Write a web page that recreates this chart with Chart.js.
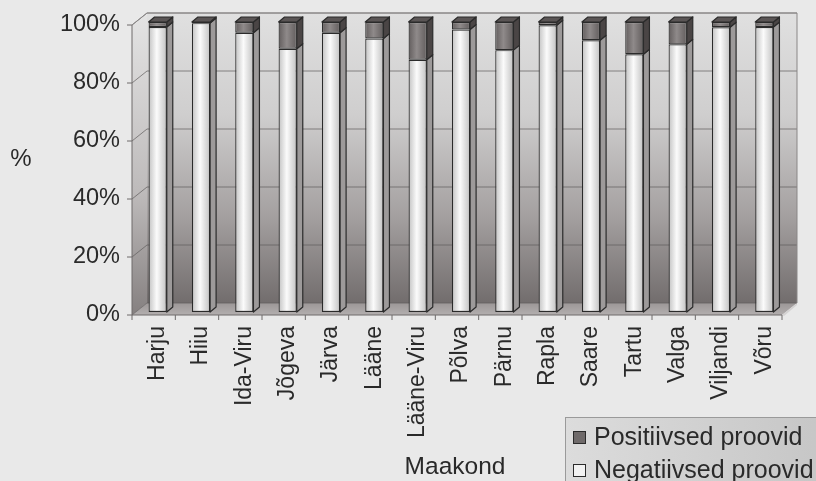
<!DOCTYPE html>
<html lang="et">
<head>
<meta charset="utf-8">
<title>Proovid maakonniti</title>
<script src="https://cdn.jsdelivr.net/npm/chart.js@4.4.1/dist/chart.umd.min.js"></script>
<style>
  html, body { margin: 0; padding: 0; background: #e9e9e9; }
  canvas { display: block; }
</style>
</head>
<body>
<canvas id="chart" width="816" height="481"></canvas>
<script>
// Andmed: negatiivsete ja positiivsete proovide osakaal (%) maakonniti
const MAAKONNAD = ["Harju", "Hiiu", "Ida-Viru", "Jõgeva", "Järva", "Lääne", "Lääne-Viru", "Põlva",
  "Pärnu", "Rapla", "Saare", "Tartu", "Valga", "Viljandi", "Võru"];
const NEGATIIVSED = [98.3, 99.6, 96.3, 90.8, 96.3, 94.3, 87.0, 97.4, 90.3, 98.9, 93.7, 88.9, 92.3, 98.2, 98.3];
const POSITIIVSED = [1.7, 0.4, 3.7, 9.2, 3.7, 5.7, 13.0, 2.6, 9.7, 1.1, 6.3, 11.1, 7.7, 1.8, 1.7];
const Y_TICKS = [0, 20, 40, 60, 80, 100];

const FONT = '"Liberation Sans", Arial, sans-serif';
const TEXT = '#2a2a2a';
const EDGE = '#2b2b2b';

// 3D look: wall planes relative to the bar plane, and depth of one bar
const FRONT = { dx: -4, dy: 3 };
const BACK = { dx: 11, dy: -9 };
const BAR_DEPTH = { dx: 6, dy: -5 };

// side / top face colours per dataset (neg, pos)
const SIDE_COLORS = ['#9d9a9a', '#4a4545'];
const TOP_COLORS = ['#d9d9d9', '#5a5555'];

function poly(ctx, pts, fill) {
  ctx.beginPath();
  ctx.moveTo(pts[0][0], pts[0][1]);
  for (let i = 1; i < pts.length; i++) ctx.lineTo(pts[i][0], pts[i][1]);
  ctx.closePath();
  if (fill) { ctx.fillStyle = fill; ctx.fill(); }
  ctx.stroke();
}

// cylinder-ish shading across the front face of each bar
function barFill(light, dark) {
  return (c) => {
    const chart = c.chart;
    const xs = chart.scales && chart.scales.x;
    if (!chart.chartArea || !xs || c.dataIndex == null) return light;
    const cx = xs.getPixelForValue(c.dataIndex);
    const half = xs.width / MAAKONNAD.length * 0.21;
    const g = chart.ctx.createLinearGradient(cx - half, 0, cx + half, 0);
    g.addColorStop(0, dark);
    g.addColorStop(0.45, light);
    g.addColorStop(1, dark);
    return g;
  };
}

const wall3d = {
  id: 'wall3d',
  beforeDraw(chart) {
    const { ctx, width, height } = chart;
    ctx.save();
    ctx.fillStyle = '#e9e9e9';
    ctx.fillRect(0, 0, width, height);
    ctx.restore();
  },
  beforeDatasetsDraw(chart) {
    const { ctx, chartArea: a, scales: { y } } = chart;
    const fl = a.left + FRONT.dx, fr = a.right + FRONT.dx;
    const ft = a.top + FRONT.dy, fb = a.bottom + FRONT.dy;
    const bl = a.left + BACK.dx, br = a.right + BACK.dx;
    const bt = a.top + BACK.dy, bb = a.bottom + BACK.dy;
    ctx.save();

    // back wall
    let g = ctx.createLinearGradient(0, bt, 0, bb);
    g.addColorStop(0, '#e0e0e0');
    g.addColorStop(0.35, '#cfcece');
    g.addColorStop(0.7, '#a4a0a0');
    g.addColorStop(1, '#726d6d');
    ctx.fillStyle = g;
    ctx.fillRect(bl, bt, br - bl, bb - bt);

    // left side wall
    g = ctx.createLinearGradient(0, bt, 0, fb);
    g.addColorStop(0, '#e4e4e4');
    g.addColorStop(0.6, '#bdbaba');
    g.addColorStop(1, '#858080');
    ctx.strokeStyle = 'rgba(0,0,0,0)';
    poly(ctx, [[fl, ft], [bl, bt], [bl, bb], [fl, fb]], g);

    // floor
    g = ctx.createLinearGradient(0, bb, 0, fb);
    g.addColorStop(0, '#9c9797');
    g.addColorStop(1, '#b3afaf');
    poly(ctx, [[fl, fb], [fr, fb], [br, bb], [bl, bb]], g);
    ctx.fillStyle = '#d4d2d2';
    ctx.beginPath();
    ctx.moveTo(fr, fb); ctx.lineTo(br, bb); ctx.lineTo(br, bb + 2); ctx.lineTo(fr + 2, fb + 1);
    ctx.closePath(); ctx.fill();

    // grid lines on side and back walls
    ctx.lineWidth = 1;
    ctx.strokeStyle = 'rgba(95,92,92,0.7)';
    Y_TICKS.forEach(v => {
      const py = y.getPixelForValue(v);
      ctx.beginPath();
      ctx.moveTo(fl, py + FRONT.dy);
      ctx.lineTo(bl, py + BACK.dy);
      ctx.lineTo(br, py + BACK.dy);
      ctx.stroke();
    });

    // wall edges
    ctx.strokeStyle = '#8a8787';
    ctx.beginPath();
    ctx.moveTo(fl, ft); ctx.lineTo(bl, bt); ctx.lineTo(br, bt); ctx.lineTo(br, bb);
    ctx.stroke();

    // axes on the front plane
    ctx.strokeStyle = '#6e6b6b';
    ctx.beginPath();
    ctx.moveTo(fl, ft); ctx.lineTo(fl, fb); ctx.lineTo(fr, fb);
    ctx.stroke();

    // tick marks
    Y_TICKS.forEach(v => {
      const py = y.getPixelForValue(v) + FRONT.dy;
      ctx.beginPath(); ctx.moveTo(fl - 5, py); ctx.lineTo(fl, py); ctx.stroke();
    });
    const cw = (a.right - a.left) / MAAKONNAD.length;
    for (let k = 0; k <= MAAKONNAD.length; k++) {
      const px = a.left + k * cw + FRONT.dx;
      ctx.beginPath(); ctx.moveTo(px, fb); ctx.lineTo(px, fb + 5); ctx.stroke();
    }
    ctx.restore();
  },
  afterDatasetsDraw(chart) {
    const { ctx } = chart;
    const n = chart.data.datasets.length;
    ctx.save();
    ctx.lineWidth = 1.2;
    ctx.strokeStyle = EDGE;
    ctx.lineJoin = 'round';
    chart.data.datasets.forEach((ds, di) => {
      const meta = chart.getDatasetMeta(di);
      meta.data.forEach(bar => {
        const { x, y, base, width } = bar.getProps(['x', 'y', 'base', 'width'], true);
        const l = x - width / 2, r = x + width / 2;
        const dx = BAR_DEPTH.dx, dy = BAR_DEPTH.dy;
        poly(ctx, [[r, y], [r + dx, y + dy], [r + dx, base + dy], [r, base]], SIDE_COLORS[di]);
        if (di === n - 1) {
          poly(ctx, [[l, y], [r, y], [r + dx, y + dy], [l + dx, y + dy]], TOP_COLORS[di]);
        }
      });
    });
    ctx.restore();
  },
  afterDraw(chart) {
    const { ctx } = chart;
    ctx.save();
    // y-axis title, kept upright
    ctx.fillStyle = TEXT;
    ctx.font = '24px ' + FONT;
    ctx.textAlign = 'center';
    ctx.textBaseline = 'middle';
    ctx.fillText('%', 21, 159);

    // x-axis title
    ctx.font = '24.5px ' + FONT;
    ctx.fillText('Maakond', 455, 467);

    // legend box (bottom right)
    const bx = 565, by = 417, bw = 260, bh = 70;
    const g = ctx.createLinearGradient(bx, 0, bx + bw, 0);
    g.addColorStop(0, '#dcdcdc');
    g.addColorStop(1, '#c6c6c6');
    ctx.fillStyle = g;
    ctx.fillRect(bx, by, bw, bh);
    ctx.strokeStyle = '#9a9a9a';
    ctx.lineWidth = 1;
    ctx.strokeRect(bx + 0.5, by + 0.5, bw, bh);

    const items = chart.data.datasets.map(ds => ({ label: ds.label, color: ds.swatch })).reverse();
    ctx.font = '25px ' + FONT;
    ctx.textAlign = 'left';
    items.forEach((it, i) => {
      const cy = 437 + i * 33;
      ctx.fillStyle = it.color;
      ctx.fillRect(573, cy - 6, 13, 13);
      ctx.strokeStyle = EDGE;
      ctx.strokeRect(573.5, cy - 5.5, 12, 12);
      ctx.fillStyle = TEXT;
      ctx.fillText(it.label, 594, cy + 1);
    });
    ctx.restore();
  }
};

new Chart(document.getElementById('chart'), {
  type: 'bar',
  data: {
    labels: MAAKONNAD,
    datasets: [
      {
        label: 'Negatiivsed proovid',
        data: NEGATIIVSED,
        backgroundColor: barFill('#fbfbfb', '#c2c2c2'),
        swatch: '#f2f2f2'
      },
      {
        label: 'Positiivsed proovid',
        data: POSITIIVSED,
        backgroundColor: barFill('#8f8a8a', '#625d5d'),
        swatch: '#6f6a6a'
      }
    ]
  },
  options: {
    responsive: false,
    animation: false,
    layout: { padding: { left: 0, top: 22, right: 30, bottom: 0 } },
    plugins: {
      legend: { display: false },
      tooltip: { enabled: false }
    },
    datasets: {
      bar: {
        categoryPercentage: 1,
        barPercentage: 0.42,
        borderWidth: 1.2,
        borderColor: EDGE,
        borderSkipped: false
      }
    },
    scales: {
      x: {
        stacked: true,
        grid: { display: false, drawTicks: false },
        border: { display: false },
        ticks: {
          minRotation: 90,
          maxRotation: 90,
          autoSkip: false,
          padding: 14,
          color: TEXT,
          font: { family: FONT, size: 23 }
        },
        afterFit(s) { s.height = 169; }
      },
      y: {
        stacked: true,
        min: 0,
        max: 100,
        grid: { display: false, drawTicks: false },
        border: { display: false },
        afterBuildTicks(s) { s.ticks = Y_TICKS.map(v => ({ value: v })); },
        ticks: {
          padding: 16,
          labelOffset: 3,
          color: TEXT,
          font: { family: FONT, size: 23.5 },
          callback: v => v + '%'
        },
        // fixed width; drop the label overhang so the top padding alone sets the plot top
        afterFit(s) { s.width = 136; s.paddingTop = 0; s.paddingBottom = 0; }
      }
    }
  },
  plugins: [wall3d]
});
</script>
</body>
</html>
